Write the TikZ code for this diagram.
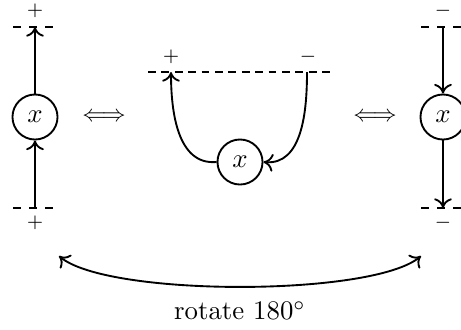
\documentclass[tikz,border=0pt]{standalone}
\usetikzlibrary{arrows.meta}
\begin{document}
\begin{tikzpicture}[x=0.373pt,y=-0.373pt,
  ln/.style={line width=0.7pt},
  tipend/.style={-{Computer Modern Rightarrow[length=3.6pt,width=6.6pt]}},
  bothtips/.style={{Computer Modern Rightarrow[length=3.6pt,width=6.6pt]}-{Computer Modern Rightarrow[length=3.6pt,width=6.6pt]}},
  sidebound/.style={line width=0.7pt, dash pattern=on 3pt off 3pt},
  midbound/.style={line width=0.7pt, dash pattern=on 2.9pt off 2.1pt},
  var/.style={circle,draw,line width=0.7pt,minimum size=16.8pt,inner sep=0pt},
  sign/.style={font=\scriptsize,inner sep=0pt},
  equiv/.style={inner sep=0pt}]
\useasboundingbox (0,0) rectangle (461,329);

% left column
\node[var] (L) at (35,117) {$x$};
\coordinate (Lt) at (35,27);
\coordinate (Lb) at (35,208);
\coordinate (Lt1) at (13,27); \coordinate (Lt2) at (53,27);
\coordinate (Lb1) at (13,208); \coordinate (Lb2) at (53,208);
\draw[sidebound] (Lt1) -- (Lt2);
\draw[sidebound] (Lb1) -- (Lb2);
\draw[ln,tipend] (Lb) -- (L);
\draw[ln,tipend] (L) -- (Lt);
\node[sign] (Lpt) at (35,11) {$+$};
\node[sign] (Lpb) at (35,223) {$+$};

% equivalences
\node[equiv] (E1) at (104,117) {\scalebox{0.88}{$\Longleftrightarrow$}};
\node[equiv] (E2) at (375,117) {\scalebox{0.88}{$\Longleftrightarrow$}};

% middle
\node[var] (M) at (240,162) {$x$};
\coordinate (Mp) at (171,72);
\coordinate (Mm) at (307,72);
\coordinate (M1) at (148,72); \coordinate (M2) at (332,72);
\draw[midbound] (M1) -- (M2);
\draw[ln,tipend] (M.west) to[out=185,in=-90] (Mp);
\draw[ln,tipend] (Mm) to[out=-90,in=-5] (M.east);
\node[sign] (Mps) at (171,57) {$+$};
\node[sign] (Mms) at (308,57) {$-$};

% right column
\node[var] (R) at (443,117) {$x$};
\coordinate (Rt) at (443,27);
\coordinate (Rb) at (443,208);
\coordinate (Rt1) at (421,27); \coordinate (Rt2) at (465,27);
\coordinate (Rb1) at (421,208); \coordinate (Rb2) at (465,208);
\draw[sidebound] (Rt1) -- (Rt2);
\draw[sidebound] (Rb1) -- (Rb2);
\draw[ln,tipend] (Rt) -- (R);
\draw[ln,tipend] (R) -- (Rb);
\node[sign] (Rmt) at (443,11) {$-$};
\node[sign] (Rmb) at (443,223) {$-$};

% rotation arc
\coordinate (A1) at (59,256);
\coordinate (A2) at (421,256);
\draw[ln,bothtips] (A1) to[out=-40,in=-140,looseness=0.45] (A2);
\node (rot) at (240,311) {rotate 180$^\circ$};
\end{tikzpicture}
\end{document}
